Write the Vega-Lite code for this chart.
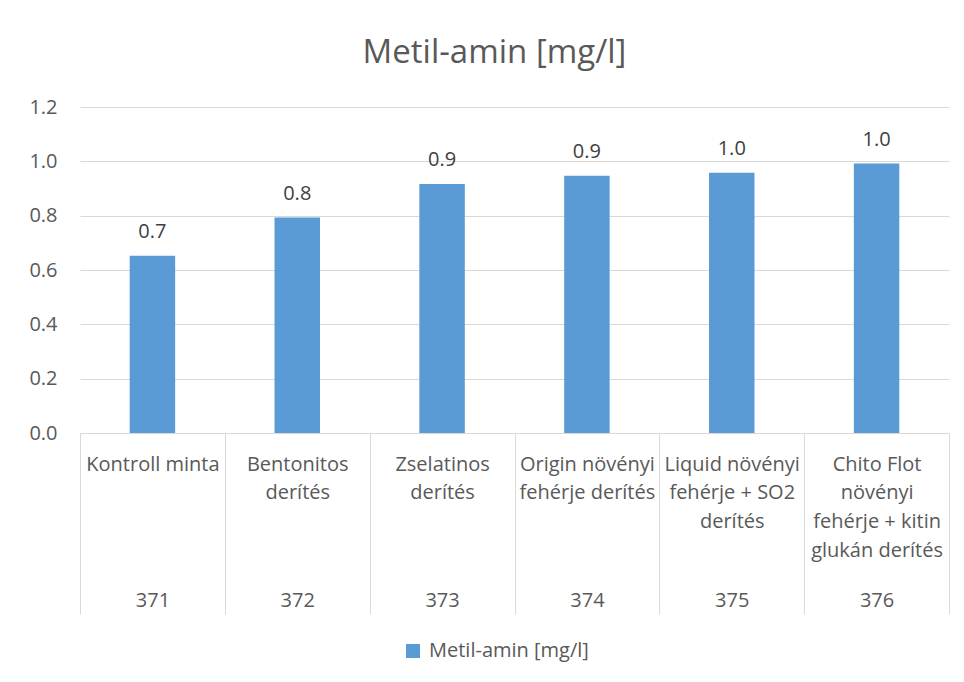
{
  "$schema": "https://vega.github.io/schema/vega-lite/v6.json",
  "width": 869,
  "height": 326,
  "autosize": {"type": "none"},
  "padding": {"left": 80, "top": 107, "right": 15, "bottom": 249},
  "background": "white",
  "config": {
    "font": "Open Sans",
    "view": {"stroke": null},
    "axis": {"labelColor": "#595959", "labelFont": "Open Sans", "labelFontSize": 20}
  },
  "title": {
    "text": "Metil-amin [mg/l]",
    "anchor": "middle",
    "frame": "group",
    "dx": -20,
    "offset": 1,
    "baseline": "alphabetic",
    "fontSize": 33,
    "fontWeight": "normal",
    "color": "#595959",
    "font": "Open Sans"
  },
  "data": {
    "values": [
      {"name": "Kontroll minta", "code": "371", "value": 0.652},
      {"name": "Bentonitos|derítés", "code": "372", "value": 0.793},
      {"name": "Zselatinos|derítés", "code": "373", "value": 0.917},
      {"name": "Origin növényi|fehérje derítés", "code": "374", "value": 0.947},
      {"name": "Liquid növényi|fehérje + SO2|derítés", "code": "375", "value": 0.958},
      {"name": "Chito Flot|növényi|fehérje + kitin|glukán derítés", "code": "376", "value": 0.992}
    ]
  },
  "layer": [
    {
      "mark": {"type": "bar", "width": {"band": 0.314}},
      "encoding": {
        "x": {
          "field": "name",
          "type": "nominal",
          "sort": null,
          "scale": {"paddingInner": 0, "paddingOuter": 0},
          "axis": {
            "title": null,
            "orient": "bottom",
            "labelAngle": 0,
            "labelExpr": "split(datum.label, '|')",
            "labelLineHeight": 28.7,
            "labelBaseline": "top",
            "labelPadding": -160,
            "labelLimit": 0,
            "tickBand": "extent",
            "tickSize": 181,
            "tickColor": "#D9D9D9",
            "tickWidth": 1,
            "domainColor": "#D9D9D9",
            "domainWidth": 1
          }
        },
        "y": {
          "field": "value",
          "type": "quantitative",
          "scale": {"domain": [0, 1.2], "nice": false},
          "axis": {
            "title": null,
            "values": [0, 0.2, 0.4, 0.6, 0.8, 1.0, 1.2],
            "format": ".1f",
            "domain": false,
            "ticks": false,
            "labelPadding": 23,
            "gridColor": "#D9D9D9",
            "gridWidth": 1
          }
        },
        "color": {
          "datum": "Metil-amin [mg/l]",
          "type": "nominal",
          "scale": {"range": ["#5B9BD5"]},
          "legend": {
            "title": null,
            "orient": "none",
            "legendX": 323,
            "legendY": 534,
            "symbolType": "square",
            "symbolSize": 196,
            "symbolStrokeWidth": 0,
            "labelFontSize": 20,
            "labelColor": "#595959",
            "labelFont": "Open Sans",
            "labelOffset": 6,
            "padding": 0
          }
        }
      }
    },
    {
      "mark": {"type": "text", "baseline": "alphabetic", "dy": -18, "fontSize": 20, "color": "#404040", "font": "Open Sans"},
      "encoding": {
        "x": {
          "field": "code",
          "type": "nominal",
          "sort": null,
          "scale": {"paddingInner": 0, "paddingOuter": 0},
          "axis": {
            "title": null,
            "orient": "bottom",
            "labelAngle": 0,
            "labelBaseline": "top",
            "ticks": false,
            "domain": false,
            "grid": false,
            "labelPadding": 157
          }
        },
        "y": {"field": "value", "type": "quantitative"},
        "text": {"field": "value", "type": "quantitative", "format": ".1f"}
      }
    }
  ],
  "resolve": {"scale": {"x": "independent"}, "axis": {"x": "independent"}}
}
